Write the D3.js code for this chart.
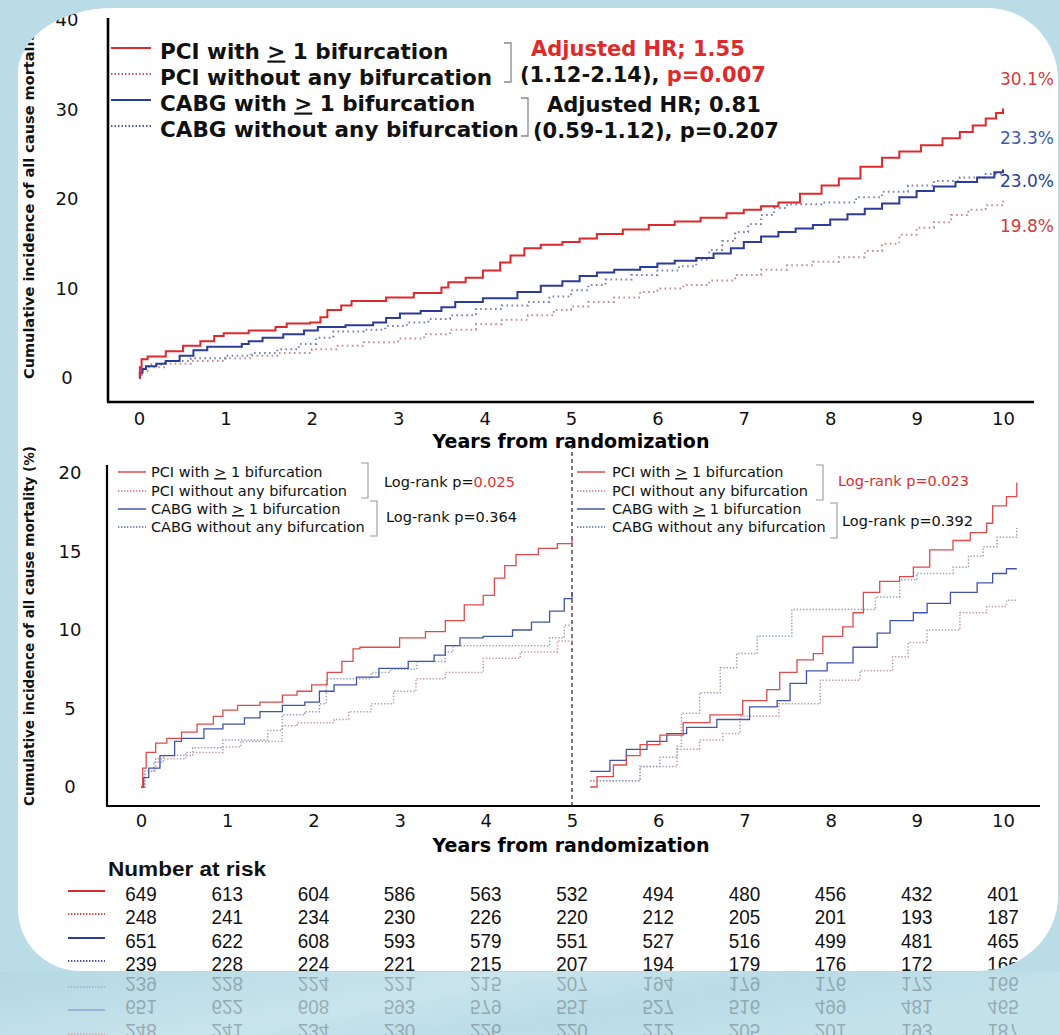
<!DOCTYPE html>
<html><head><meta charset="utf-8">
<script src="https://cdn.jsdelivr.net/npm/d3@7"></script>
<style>html,body{margin:0;padding:0;background:#b9dce7;}svg{display:block}</style>
</head><body><svg id="c" width="1060" height="1035"></svg>
<script>
// ---------------- DATA ----------------
const yearTicks = [0,1,2,3,4,5,6,7,8,9,10];
const yTicksTop = [0,10,20,30,40];
const yTicksBottom = [0,5,10,15,20];
const seriesNames = ["PCI with ≥ 1 bifurcation","PCI without any bifurcation","CABG with ≥ 1 bifurcation","CABG without any bifurcation"];
const endLabels = ["30.1%","23.3%","23.0%","19.8%"];
const hrRed = ["Adjusted HR; 1.55","(1.12-2.14), ","p=0.007"];
const hrBlue = ["Adjusted HR; 0.81","(0.59-1.12), p=0.207"];
const logRankLeft = ["Log-rank p=","0.025","Log-rank p=0.364"];
const logRankRight = ["Log-rank p=0.023","Log-rank p=0.392"];
const xTitle = "Years from randomization";
const yTitleTop = "Cumulative incidence of all cause mortality";
const yTitleBottom = "Cumulative incidence of all cause mortality (%)";
const riskTitle = "Number at risk";

// 10-year curves [years, %]
const pciWith10 = [[0,0],[0.01,1.2],[0.03,2.1],[0.1,2.4],[0.31,3.0],[0.51,3.6],[0.71,4.1],[0.87,4.7],[0.98,5.0],[1.27,5.3],[1.58,5.7],[1.71,6.1],[1.98,6.2],[2.1,6.8],[2.18,7.6],[2.34,8.1],[2.46,8.6],[2.86,9.0],[3.18,9.5],[3.5,10.1],[3.58,10.7],[3.78,11.2],[3.98,12.0],[4.18,12.9],[4.3,13.7],[4.46,14.5],[4.65,14.9],[4.9,15.2],[5.1,15.6],[5.3,16.1],[5.6,16.6],[5.9,17.1],[6.2,17.5],[6.5,17.9],[6.8,18.4],[7.0,18.8],[7.2,19.2],[7.4,19.6],[7.65,20.6],[7.9,21.5],[8.1,22.3],[8.35,23.6],[8.6,24.6],[8.8,25.3],[9.05,26.0],[9.3,26.8],[9.5,27.5],[9.65,28.2],[9.8,29.0],[9.92,29.6],[10,30.1]];
const pciWithout10 = [[0,0],[0.03,0.8],[0.1,1.2],[0.3,1.6],[0.6,1.9],[1.0,2.2],[1.3,2.5],[1.6,2.8],[2.0,3.2],[2.3,3.6],[2.6,4.0],[3.0,4.4],[3.3,4.9],[3.6,5.4],[3.9,6.0],[4.2,6.5],[4.5,7.0],[4.8,7.6],[5.0,8.0],[5.2,8.5],[5.5,9.0],[5.8,9.6],[6.0,10.0],[6.3,10.4],[6.6,10.9],[6.9,11.5],[7.2,12.1],[7.5,12.6],[7.8,13.0],[8.1,13.5],[8.4,14.2],[8.6,15.0],[8.8,16.0],[9.0,16.8],[9.2,17.4],[9.4,18.2],[9.6,18.8],[9.8,19.3],[10,19.8]];
const cabgWith10 = [[0,0],[0.01,0.6],[0.04,1.0],[0.08,1.3],[0.2,1.6],[0.31,1.9],[0.47,2.5],[0.63,3.1],[0.79,3.5],[1.19,3.8],[1.27,4.1],[1.43,4.5],[1.67,4.9],[1.91,5.3],[2.07,5.7],[2.39,5.9],[2.71,6.2],[2.86,6.7],[3.02,7.2],[3.26,7.5],[3.5,7.9],[3.66,8.5],[3.98,8.9],[4.38,9.6],[4.65,10.3],[4.9,10.8],[5.1,11.4],[5.3,11.8],[5.5,12.1],[5.8,12.4],[6.0,12.8],[6.2,13.1],[6.45,13.4],[6.65,13.9],[6.85,14.5],[7.0,15.2],[7.2,15.8],[7.4,16.3],[7.6,16.7],[7.8,17.1],[8.0,17.7],[8.2,18.3],[8.4,18.9],[8.6,19.5],[8.8,20.2],[9.0,20.9],[9.2,21.4],[9.45,21.9],[9.7,22.4],[9.9,23.0],[10,23.3]];
const cabgWithout10 = [[0,0],[0.03,1.0],[0.1,1.5],[0.3,1.9],[0.6,2.2],[1.0,2.5],[1.3,2.8],[1.6,3.2],[1.85,3.8],[2.05,4.5],[2.25,5.2],[2.6,5.4],[2.85,5.8],[3.1,6.2],[3.35,6.6],[3.6,7.0],[3.9,7.7],[4.2,8.1],[4.5,8.5],[4.75,9.1],[5.0,9.8],[5.2,10.4],[5.4,11.0],[5.7,11.5],[6.0,12.0],[6.25,12.5],[6.45,13.2],[6.6,14.3],[6.75,15.3],[6.9,16.3],[7.05,17.2],[7.2,18.2],[7.35,19.0],[7.5,19.4],[7.9,19.6],[8.3,20.2],[8.6,20.8],[8.9,21.5],[9.2,22.0],[9.5,22.4],[9.8,22.8],[10,23.0]];

// 0-5 year curves
const pciWith5 = [[0,0],[0.02,1.2],[0.06,2.2],[0.17,2.8],[0.3,3.1],[0.47,3.5],[0.65,4.0],[0.84,4.5],[0.95,4.9],[1.12,5.2],[1.38,5.4],[1.64,5.85],[1.81,6.1],[1.98,6.5],[2.16,7.3],[2.33,8.0],[2.46,8.8],[2.54,8.9],[3.0,9.5],[3.3,9.9],[3.53,10.6],[3.75,11.6],[3.97,12.2],[4.1,13.3],[4.22,14.1],[4.35,14.8],[4.61,15.2],[4.83,15.5],[5.0,15.85]];
const pciWithout5 = [[0,0],[0.04,1.0],[0.17,1.8],[0.52,2.2],[0.95,2.55],[1.16,2.9],[1.64,3.9],[1.81,4.1],[2.24,4.3],[2.41,4.8],[2.67,5.3],[2.93,6.1],[3.19,6.9],[3.53,7.3],[3.97,8.2],[4.4,8.6],[4.83,9.3],[5.0,9.7]];
const cabgWith5 = [[0,0],[0.03,0.6],[0.09,1.2],[0.22,2.0],[0.39,2.9],[0.47,3.1],[0.73,3.7],[0.95,4.0],[1.2,4.4],[1.38,4.8],[1.64,5.2],[1.9,5.4],[2.07,6.1],[2.24,6.5],[2.5,7.0],[2.76,7.55],[3.1,8.0],[3.4,8.4],[3.53,9.0],[3.7,9.5],[3.97,9.6],[4.31,10.0],[4.53,10.5],[4.74,11.2],[4.91,12.0],[5.0,12.4]];
const cabgWithout5 = [[0,0],[0.05,1.0],[0.15,1.6],[0.26,2.0],[0.6,2.5],[0.95,3.0],[1.47,3.6],[1.64,4.6],[1.9,4.8],[2.07,5.3],[2.15,6.9],[2.67,7.3],[2.89,7.5],[3.2,8.0],[3.53,8.6],[3.62,9.0],[4.74,9.5],[4.91,10.3],[5.0,10.3]];

// 5-10 year landmark curves
const pciWith510 = [[5.21,0],[5.29,0.66],[5.48,1.4],[5.63,2.0],[5.79,2.7],[6.02,3.3],[6.29,4.1],[6.6,4.6],[6.98,5.5],[7.26,6.2],[7.41,7.3],[7.61,8.1],[7.8,8.5],[7.91,9.6],[8.14,10.2],[8.26,11.1],[8.38,12.4],[8.57,13.1],[8.8,13.4],[8.96,14.0],[9.15,15.1],[9.42,15.7],[9.62,16.2],[9.81,16.8],[9.88,17.9],[10.04,18.5],[10.16,19.4]];
const pciWithout510 = [[5.21,0.4],[5.79,1.3],[6.22,2.4],[6.48,3.0],[6.75,3.4],[6.95,4.5],[7.4,5.3],[7.88,6.8],[8.34,7.4],[8.72,8.3],[8.9,9.2],[9.12,10.0],[9.5,11.1],[9.81,11.5],[10.04,11.9],[10.16,11.9]];
const cabgWith510 = [[5.21,1.0],[5.44,1.7],[5.63,2.4],[5.87,2.9],[6.1,3.4],[6.33,3.8],[6.68,4.3],[7.06,5.1],[7.38,5.5],[7.53,6.6],[7.72,7.4],[7.96,7.9],[8.26,8.9],[8.54,9.8],[8.69,10.6],[8.96,11.1],[9.12,11.7],[9.39,12.4],[9.7,13.0],[9.88,13.6],[10.04,13.9],[10.16,13.9]];
const cabgWithout510 = [[5.21,0.4],[5.79,1.3],[6.02,1.9],[6.22,2.6],[6.27,4.7],[6.48,6.0],[6.72,7.6],[6.91,8.5],[7.15,9.6],[7.55,11.3],[8.52,12.1],[8.8,13.2],[9.0,13.6],[9.42,14.0],[9.6,14.7],[9.77,15.3],[9.93,15.9],[10.16,16.5]];

// Number at risk
const riskPciWith = [649,613,604,586,563,532,494,480,456,432,401];
const riskPciWithout = [248,241,234,230,226,220,212,205,201,193,187];
const riskCabgWith = [651,622,608,593,579,551,527,516,499,481,465];
const riskCabgWithout = [239,228,224,221,215,207,194,179,176,172,166];

// ---------------- STYLE ----------------
const SANS = "'DejaVu Sans', Verdana, sans-serif";
const NARROW = "'Liberation Sans Narrow','Arial Narrow','Liberation Sans',Arial,sans-serif";
const RED = "#e0282c", BLUE = "#2d3b9b";
const styles = [
  {color:RED, dash:null},
  {color:"#c38a92", dash:"1.6 3.4"},
  {color:BLUE, dash:null},
  {color:"#7482b4", dash:"1.6 3.4"}
];

const svg = d3.select("#c");
const W = 1060, H = 1035;
svg.append("rect").attr("width",W).attr("height",H).attr("fill","#b9dce7");
const defs = svg.append("defs");
const grad = defs.append("linearGradient").attr("id","refl").attr("x1","0").attr("y1","0").attr("x2","1").attr("y2","0.3");
grad.append("stop").attr("offset","0").attr("stop-color","#b4d8e3");
grad.append("stop").attr("offset","0.45").attr("stop-color","#c9e4ec");
grad.append("stop").attr("offset","0.7").attr("stop-color","#b9dce7");
grad.append("stop").attr("offset","1").attr("stop-color","#c4e2ea");
svg.append("rect").attr("x",0).attr("y",972).attr("width",W).attr("height",H-972).attr("fill","url(#refl)");

// card shape
const L=18,T=8,R=1058,B=971;
const cardPath = `M${L+95},${T} L${R-70},${T} A70,72 0 0 1 ${R},${T+72} L${R},${B-75} A80,75 0 0 1 ${R-80},${B} L${L+62},${B} A62,62 0 0 1 ${L},${B-62} L${L},${T+65} A95,65 0 0 1 ${L+95},${T} Z`;
defs.append("clipPath").attr("id","card").append("path").attr("d",cardPath);
defs.append("clipPath").attr("id","reflClip").append("rect").attr("x",0).attr("y",973).attr("width",W).attr("height",H-973);
svg.append("path").attr("d",cardPath).attr("fill","#ffffff");
const g = svg.append("g").attr("clip-path","url(#card)");

function addLabel(sel, str){
  const parts = str.split("≥");
  sel.append("tspan").text(parts[0]);
  if(parts.length>1){
    sel.append("tspan").text(">").style("text-decoration","underline");
    sel.append("tspan").text(parts[1]);
  }
}
const stepLine = (x,y)=>d3.line().x(d=>x(d[0])).y(d=>y(d[1])).curve(d3.curveStepAfter);

// ================ TOP CHART ================
const xTop = d3.scaleLinear().domain([0,10]).range([139,1003]);
const yTop = d3.scaleLinear().domain([0,40]).range([378,20]);
g.append("line").attr("x1",108).attr("x2",108).attr("y1",18).attr("y2",402).attr("stroke","#000").attr("stroke-width",2.6);
g.append("line").attr("x1",107).attr("x2",1034).attr("y1",402).attr("y2",402).attr("stroke","#000").attr("stroke-width",2.6);
const axTopX = g.append("g").attr("transform","translate(0,402)")
  .call(d3.axisBottom(xTop).tickValues(yearTicks).tickSize(0).tickPadding(10).tickFormat(d3.format("d")));
axTopX.select(".domain").remove();
axTopX.selectAll("text").attr("font-family",SANS).attr("font-size",18).attr("fill","#111");
const axTopY = g.append("g").attr("transform","translate(108,0)")
  .call(d3.axisLeft(yTop).tickValues(yTicksTop).tickSize(0).tickFormat(d3.format("d")));
axTopY.select(".domain").remove();
axTopY.selectAll("text").attr("font-family",SANS).attr("font-size",18).attr("fill","#111").attr("text-anchor","middle").attr("x",-41);
g.append("text").attr("x",571).attr("y",441).attr("dy","0.35em").attr("text-anchor","middle")
  .attr("font-family",SANS).attr("font-weight","bold").attr("font-size",19).text(xTitle);
g.append("text").attr("transform","translate(34,379) rotate(-90)").attr("font-family",SANS).attr("font-weight","bold")
  .attr("font-size",14.5).attr("fill","#111").text(yTitleTop);

const topSeries = [pciWith10, pciWithout10, cabgWith10, cabgWithout10];
const drawOrder = [1,3,2,0];
drawOrder.forEach(i=>{
  const s = styles[i];
  g.append("path").datum(topSeries[i]).attr("d",stepLine(xTop,yTop)).attr("fill","none")
    .attr("stroke",s.color).attr("stroke-width",2)
    .attr("stroke-dasharray",s.dash).attr("stroke-linecap","butt");
});

// top legend
const legTopY = [51,77,103,129];
seriesNames.forEach((n,i)=>{
  const s = styles[i];
  g.append("line").attr("x1",111).attr("x2",151).attr("y1",legTopY[i]-3).attr("y2",legTopY[i]-3)
    .attr("stroke",i==1?"#c05a66":(i==3?"#4a5aa8":s.color)).attr("stroke-width",2).attr("stroke-dasharray",s.dash?"1.5 2":null);
  const t = g.append("text").attr("x",160).attr("y",legTopY[i]).attr("dy","0.35em")
    .attr("font-family",SANS).attr("font-weight","bold").attr("font-size",21.5).attr("fill","#111");
  addLabel(t,n);
});
function bracket(x,y1,y2,w,stroke,sw){
  g.append("path").attr("d",`M${x-w},${y1} H${x} V${y2} H${x-w}`).attr("fill","none").attr("stroke",stroke).attr("stroke-width",sw);
}
bracket(511,43,82,7,"#888",1.3);
bracket(528,98,136,7,"#888",1.3);
g.append("text").attr("x",531).attr("y",49).attr("dy","0.35em").attr("font-family",SANS).attr("font-weight","bold")
  .attr("font-size",21).attr("fill","#e02a2a").text(hrRed[0]);
const hr2 = g.append("text").attr("x",520).attr("y",75).attr("dy","0.35em").attr("font-family",SANS).attr("font-weight","bold").attr("font-size",21).attr("fill","#111");
hr2.append("tspan").text(hrRed[1]);
hr2.append("tspan").attr("fill","#e02a2a").text(hrRed[2]);
g.append("text").attr("x",547).attr("y",105).attr("dy","0.35em").attr("font-family",SANS).attr("font-weight","bold")
  .attr("font-size",21).attr("fill","#111").text(hrBlue[0]);
g.append("text").attr("x",533).attr("y",131).attr("dy","0.35em").attr("font-family",SANS).attr("font-weight","bold")
  .attr("font-size",21).attr("fill","#111").text(hrBlue[1]);

const endY = [79,138,181,226];
const endColors = ["#d83a3a","#3d5aaa","#2c3f90","#d83a3a"];
endLabels.forEach((l,i)=>{
  g.append("text").attr("x",1000).attr("y",endY[i]).attr("dy","0.35em").attr("font-family",SANS)
    .attr("font-size",17).attr("fill",endColors[i]).text(l);
});

// ================ BOTTOM CHART ================
const xBot = d3.scaleLinear().domain([0,10]).range([141,1003]);
const yBot = d3.scaleLinear().domain([0,20]).range([787,473]);
g.append("line").attr("x1",107).attr("x2",107).attr("y1",465).attr("y2",806).attr("stroke","#000").attr("stroke-width",2.2);
g.append("line").attr("x1",106).attr("x2",1040).attr("y1",806).attr("y2",806).attr("stroke","#000").attr("stroke-width",2.2);
g.append("line").attr("x1",xBot(5)).attr("x2",xBot(5)).attr("y1",445).attr("y2",806).attr("stroke","#333").attr("stroke-width",1.3).attr("stroke-dasharray","4 3");
const axBotX = g.append("g").attr("transform","translate(0,806)")
  .call(d3.axisBottom(xBot).tickValues(yearTicks).tickSize(0).tickPadding(8).tickFormat(d3.format("d")));
axBotX.select(".domain").remove();
axBotX.selectAll("text").attr("font-family",SANS).attr("font-size",18).attr("fill","#111");
const axBotY = g.append("g").attr("transform","translate(107,0)")
  .call(d3.axisLeft(yBot).tickValues(yTicksBottom).tickSize(0).tickFormat(d3.format("d")));
axBotY.select(".domain").remove();
axBotY.selectAll("text").attr("font-family",SANS).attr("font-size",18).attr("fill","#111").attr("text-anchor","middle").attr("x",-37);
g.append("text").attr("x",571).attr("y",845).attr("dy","0.35em").attr("text-anchor","middle")
  .attr("font-family",SANS).attr("font-weight","bold").attr("font-size",19).text(xTitle);
g.append("text").attr("transform","translate(34,806) rotate(-90)").attr("font-family",SANS).attr("font-weight","bold")
  .attr("font-size",13.5).attr("fill","#111").text(yTitleBottom);

const botStyles = [
  {color:"#e04a4a", dash:null, w:1.3},
  {color:"#c39aa2", dash:"1.4 1.8", w:1.5},
  {color:"#4253aa", dash:null, w:1.3},
  {color:"#97a0bf", dash:"1.4 1.8", w:1.5}
];
const leftSeries = [pciWith5, pciWithout5, cabgWith5, cabgWithout5];
const rightSeries = [pciWith510, pciWithout510, cabgWith510, cabgWithout510];
[leftSeries, rightSeries].forEach(set=>{
  drawOrder.forEach(i=>{
    const s = botStyles[i];
    g.append("path").datum(set[i]).attr("d",stepLine(xBot,yBot)).attr("fill","none")
      .attr("stroke",s.color).attr("stroke-width",s.w).attr("stroke-dasharray",s.dash);
  });
});

// bottom legends
const legBotY = [472,491,509,527];
function smallLegend(x0, xt){
  seriesNames.forEach((n,i)=>{
    const s = botStyles[i];
    g.append("line").attr("x1",x0).attr("x2",x0+28).attr("y1",legBotY[i]).attr("y2",legBotY[i])
      .attr("stroke",i%2? (i==1?"#c0707a":"#5a68a8") : s.color).attr("stroke-width",1.5).attr("stroke-dasharray",s.dash?"1.4 1.6":null);
    const t = g.append("text").attr("x",xt).attr("y",legBotY[i]).attr("dy","0.35em")
      .attr("font-family",SANS).attr("font-size",14.5).attr("fill","#111");
    addLabel(t,n);
  });
}
smallLegend(118,151);
smallLegend(577,612);
bracket(368,463,498,7,"#999",1.1);
bracket(377,501,536,7,"#999",1.1);
bracket(823,465,500,7,"#999",1.1);
bracket(837,503,538,7,"#999",1.1);
const lr1 = g.append("text").attr("x",384).attr("y",482).attr("dy","0.35em").attr("font-family",SANS).attr("font-size",14.5).attr("fill","#111");
lr1.append("tspan").text(logRankLeft[0]);
lr1.append("tspan").attr("fill","#e03030").text(logRankLeft[1]);
g.append("text").attr("x",386).attr("y",517).attr("dy","0.35em").attr("font-family",SANS).attr("font-size",14.5).attr("fill","#111").text(logRankLeft[2]);
g.append("text").attr("x",838).attr("y",481).attr("dy","0.35em").attr("font-family",SANS).attr("font-size",14.5).attr("fill","#d83030").text(logRankRight[0]);
g.append("text").attr("x",842).attr("y",521).attr("dy","0.35em").attr("font-family",SANS).attr("font-size",14.5).attr("fill","#111").text(logRankRight[1]);

// ================ NUMBER AT RISK ================
const riskRows = [riskPciWith, riskPciWithout, riskCabgWith, riskCabgWithout];
const rowY = [893,916,940,963];
function drawRisk(sel){
  sel.append("text").attr("x",108).attr("y",869).attr("dy","0.35em").attr("font-family",NARROW).attr("font-weight","bold")
    .attr("font-size",20).attr("fill","#111").attr("textLength",158).attr("lengthAdjust","spacingAndGlyphs").text(riskTitle);
  riskRows.forEach((row,i)=>{
    const s = styles[i];
    sel.append("line").attr("x1",68).attr("x2",105).attr("y1",rowY[i]-2).attr("y2",rowY[i]-2)
      .attr("stroke",i==1?"#d04a4a":(i==3?"#4a58a8":s.color)).attr("stroke-width",2).attr("stroke-dasharray",s.dash?"1.4 1.6":null);
    sel.selectAll(null).data(row).enter().append("text")
      .attr("x",(d,j)=>xBot(yearTicks[j])).attr("y",rowY[i]).attr("dy","0.36em").attr("text-anchor","middle")
      .attr("font-family",NARROW).attr("font-size",21).attr("fill","#111")
      .attr("textLength",d=>String(d).length*10.5).attr("lengthAdjust","spacingAndGlyphs").text(d=>d);
  });
}
drawRisk(g.append("g"));
// reflection of the table below the card
const rg = svg.append("g").attr("clip-path","url(#reflClip)").append("g")
  .attr("transform","translate(0,1948) scale(1,-1)").attr("opacity",0.26);
drawRisk(rg);
</script></body></html>
